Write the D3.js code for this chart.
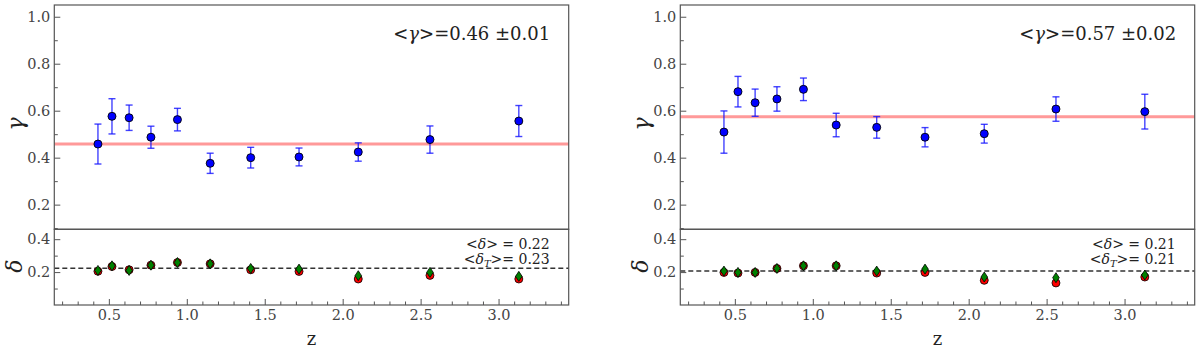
<!DOCTYPE html>
<html>
<head>
<meta charset="utf-8">
<script src="https://cdn.jsdelivr.net/npm/d3@7"></script>
<style>
  html, body { margin: 0; padding: 0; background: #fff; }
  svg { display: block; }
</style>
</head>
<body>
<svg id="chart" width="1200" height="350"></svg>
<script>
// ---------------- data ----------------
const zValues = [0.43, 0.52, 0.63, 0.77, 0.94, 1.15, 1.41, 1.72, 2.10, 2.56, 3.13];

const gammaLeft    = [0.458, 0.576, 0.570, 0.487, 0.562, 0.376, 0.400, 0.403, 0.424, 0.477, 0.556];
const gammaLeftErr = [0.085, 0.075, 0.054, 0.047, 0.048, 0.043, 0.044, 0.038, 0.039, 0.058, 0.066];
const gammaLeftMean = 0.458;
const gammaLeftLabel = ["0.46", "0.01"];

const gammaRight    = [0.509, 0.681, 0.634, 0.650, 0.691, 0.539, 0.529, 0.487, 0.502, 0.607, 0.596];
const gammaRightErr = [0.090, 0.065, 0.058, 0.052, 0.048, 0.050, 0.046, 0.041, 0.040, 0.052, 0.074];
const gammaRightMean = 0.574;
const gammaRightLabel = ["0.57", "0.02"];

const deltaLeftRed   = [0.205, 0.234, 0.214, 0.242, 0.258, 0.250, 0.214, 0.204, 0.158, 0.180, 0.158];
const deltaLeftGreen = [0.210, 0.238, 0.210, 0.242, 0.258, 0.250, 0.222, 0.218, 0.178, 0.198, 0.174];
const deltaLeftMean = 0.223;
const deltaLeftLabels = ["0.22", "0.23"];

const deltaRightRed   = [0.198, 0.194, 0.198, 0.222, 0.238, 0.238, 0.194, 0.198, 0.150, 0.134, 0.170];
const deltaRightGreen = [0.206, 0.198, 0.198, 0.222, 0.238, 0.238, 0.206, 0.218, 0.170, 0.166, 0.182];
const deltaRightMean = 0.206;
const deltaRightLabels = ["0.21", "0.21"];

const xDomain = [0.15, 3.45];
const gammaDomain = [0.095, 1.05];
const deltaDomain = [0, 0.46];
const xMajorTicks = [0.5, 1.0, 1.5, 2.0, 2.5, 3.0];
const gammaMajorTicks = [0.2, 0.4, 0.6, 0.8, 1.0];
const gammaMinorTicks = [0.1, 0.3, 0.5, 0.7, 0.9];
const deltaMajorTicks = [0.2, 0.4];
const deltaMinorTicks = [0.1, 0.3];

// ---------------- drawing ----------------
const FONT = '"DejaVu Serif", "Liberation Serif", "Times New Roman", serif';
const svg = d3.select("#chart").attr("font-family", FONT);
const panelW = 514.4;
const topY0 = 5, midY = 229.3, botY1 = 305;
const frameColor = "#555";
const labelColor = "#444";

function styleAxis(g) {
  g.attr("font-family", FONT);
  g.select(".domain").remove();
  g.selectAll(".tick line").attr("stroke", frameColor).attr("stroke-width", 1);
  g.selectAll(".tick text").attr("fill", labelColor).attr("font-size", 14.5).attr("font-family", FONT);
}

function drawPanel(x0, gamma, gammaErr, gammaMean, gammaLabel, dRed, dGreen, dMean, dLabels) {
  const g = svg.append("g").attr("font-family", FONT);
  const x = d3.scaleLinear().domain(xDomain).range([x0, x0 + panelW]);
  const yG = d3.scaleLinear().domain(gammaDomain).range([midY, topY0]);
  const yD = d3.scaleLinear().domain(deltaDomain).range([botY1, midY]);

  g.append("line")
    .attr("x1", x0).attr("x2", x0 + panelW)
    .attr("y1", yG(gammaMean)).attr("y2", yG(gammaMean))
    .attr("stroke", "#ff9999").attr("stroke-width", 3);

  g.append("line")
    .attr("x1", x0).attr("x2", x0 + panelW)
    .attr("y1", yD(dMean)).attr("y2", yD(dMean))
    .attr("stroke", "#333").attr("stroke-width", 1.5)
    .attr("stroke-dasharray", "5,3");

  g.append("g").attr("transform", `translate(${x0},0)`)
    .call(d3.axisLeft(yG).tickValues(gammaMajorTicks).tickSize(-6).tickPadding(4).tickFormat(d3.format(".1f")))
    .call(styleAxis);
  g.append("g").attr("transform", `translate(${x0},0)`)
    .call(d3.axisLeft(yG).tickValues(gammaMinorTicks).tickSize(-3.5).tickFormat(""))
    .call(styleAxis);
  g.append("g").attr("transform", `translate(${x0},0)`)
    .call(d3.axisLeft(yD).tickValues(deltaMajorTicks).tickSize(-6).tickPadding(4).tickFormat(d3.format(".1f")))
    .call(styleAxis);
  g.append("g").attr("transform", `translate(${x0},0)`)
    .call(d3.axisLeft(yD).tickValues(deltaMinorTicks).tickSize(-3.5).tickFormat(""))
    .call(styleAxis);
  const xMinor = d3.range(2, 35).map(v => v / 10).filter(v => !xMajorTicks.some(m => Math.abs(m - v) < 1e-6));
  g.append("g").attr("transform", `translate(0,${botY1})`)
    .call(d3.axisBottom(x).tickValues(xMajorTicks).tickSize(-6).tickPadding(5).tickFormat(d3.format(".1f")))
    .call(styleAxis);
  g.append("g").attr("transform", `translate(0,${botY1})`)
    .call(d3.axisBottom(x).tickValues(xMinor).tickSize(-3.5).tickFormat(""))
    .call(styleAxis);

  g.append("rect").attr("x", x0).attr("y", topY0).attr("width", panelW).attr("height", midY - topY0)
    .attr("fill", "none").attr("stroke", frameColor).attr("stroke-width", 1.2);
  g.append("rect").attr("x", x0).attr("y", midY).attr("width", panelW).attr("height", botY1 - midY)
    .attr("fill", "none").attr("stroke", frameColor).attr("stroke-width", 1.2);

  const eb = g.append("g").attr("stroke", "rgba(20,20,255,0.8)").attr("stroke-width", 1.4);
  zValues.forEach((z, i) => {
    const cx = x(z), yt = yG(gamma[i] + gammaErr[i]), yb = yG(gamma[i] - gammaErr[i]);
    eb.append("line").attr("x1", cx).attr("x2", cx).attr("y1", yt).attr("y2", yb);
    eb.append("line").attr("x1", cx - 3.5).attr("x2", cx + 3.5).attr("y1", yt).attr("y2", yt);
    eb.append("line").attr("x1", cx - 3.5).attr("x2", cx + 3.5).attr("y1", yb).attr("y2", yb);
  });
  g.append("g").selectAll("circle").data(zValues).join("circle")
    .attr("cx", d => x(d)).attr("cy", (d, i) => yG(gamma[i])).attr("r", 4)
    .attr("fill", "#0000ff").attr("stroke", "#000").attr("stroke-width", 0.9);

  g.append("g").selectAll("circle").data(zValues).join("circle")
    .attr("cx", d => x(d)).attr("cy", (d, i) => yD(dRed[i])).attr("r", 4)
    .attr("fill", "#ff0000").attr("stroke", "#000").attr("stroke-width", 0.8);
  g.append("g").selectAll("path").data(zValues).join("path")
    .attr("transform", (d, i) => `translate(${x(d)},${yD(dGreen[i])})`)
    .attr("d", "M0,-5L3.3,0L0,5L-3.3,0Z")
    .attr("fill", "#008000").attr("stroke", "#000").attr("stroke-width", 0.8);

  const t = g.append("text").attr("x", x0 + panelW - 18.5).attr("y", 40)
    .attr("text-anchor", "end").attr("fill", "#222").attr("font-size", 18);
  t.append("tspan").text("<");
  t.append("tspan").attr("font-style", "italic").text("γ");
  t.append("tspan").text(">=" + gammaLabel[0] + " ±" + gammaLabel[1]);

  const t1 = g.append("text").attr("x", x0 + panelW - 19).attr("y", 248.5)
    .attr("text-anchor", "end").attr("fill", "#222").attr("font-size", 14);
  t1.append("tspan").text("<");
  t1.append("tspan").attr("font-style", "italic").text("δ");
  t1.append("tspan").text("> = " + dLabels[0]);
  const t2 = g.append("text").attr("x", x0 + panelW - 19).attr("y", 263.5)
    .attr("text-anchor", "end").attr("fill", "#222").attr("font-size", 14);
  t2.append("tspan").text("<");
  t2.append("tspan").attr("font-style", "italic").text("δ");
  t2.append("tspan").attr("font-style", "italic").attr("font-size", 10).attr("dy", 3).text("T");
  t2.append("tspan").attr("dy", -3).text(">= " + dLabels[1]);

  g.append("text").attr("transform", `translate(${x0 - 39},124) rotate(-90)`)
    .attr("text-anchor", "middle").attr("dy", "0.35em").attr("fill", "#222")
    .attr("font-size", 22).attr("font-style", "italic").text("γ");
  g.append("text").attr("transform", `translate(${x0 - 40},266) rotate(-90)`)
    .attr("text-anchor", "middle").attr("dy", "0.35em").attr("fill", "#222")
    .attr("font-size", 22).attr("font-style", "italic").text("δ");
  g.append("text").attr("x", x0 + panelW / 2).attr("y", 345)
    .attr("text-anchor", "middle").attr("fill", "#222").attr("font-size", 18).text("z");
}

drawPanel(54.3, gammaLeft, gammaLeftErr, gammaLeftMean, gammaLeftLabel,
  deltaLeftRed, deltaLeftGreen, deltaLeftMean, deltaLeftLabels);
drawPanel(680.3, gammaRight, gammaRightErr, gammaRightMean, gammaRightLabel,
  deltaRightRed, deltaRightGreen, deltaRightMean, deltaRightLabels);
</script>
</body>
</html>
